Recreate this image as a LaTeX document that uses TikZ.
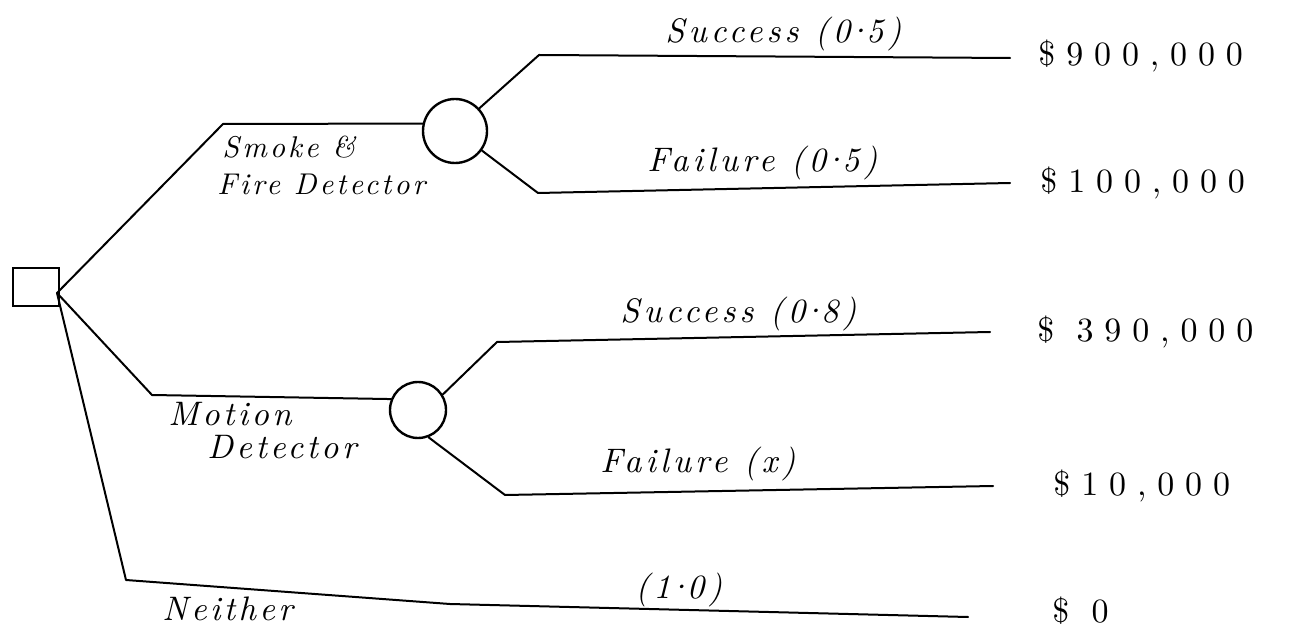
\documentclass[tikz,border=0pt]{standalone}
\usepackage{fontspec}
\setmainfont{lmroman10}[Extension=.otf, UprightFont=*-regular,
  ItalicFont=*-italic, BoldFont=*-bold, BoldItalicFont=*-bolditalic]
% raised decimal point, set close to its digits
\newcommand\rdot{\kern-2.5pt·\kern-2.5pt}
\tikzset{
  wire/.style={line width=1pt, line join=round, line cap=round},
  chance/.style={circle, draw, line width=1.2pt, inner sep=0pt},
  decision/.style={rectangle, draw, line width=1.2pt, inner sep=0pt,
    minimum width=23pt, minimum height=19pt},
  branchlab/.style={anchor=base west, inner sep=0pt,
    font=\fontsize{#1}{#1}\selectfont\itshape\addfontfeature{LetterSpace=10}},
  branchlab/.default=15,
  problab/.style={anchor=base west, inner sep=0pt,
    font=\fontsize{17}{19}\selectfont\itshape\addfontfeature{LetterSpace=12}},
  paylab/.style={anchor=base west, inner sep=0pt,
    font=\fontsize{17}{19}\selectfont\addfontfeature{LetterSpace=32}},
}
\begin{document}
\begin{tikzpicture}[x=0.5pt, y=-0.5pt]
\useasboundingbox (0,0) rectangle (1294,630);

% decision and chance nodes
\node[decision] (dec) at (36,287) {};
\coordinate (root) at (57,293);
\node[chance, minimum size=32pt] (c1) at (455,131) {};
\node[chance, minimum size=28pt] (c2) at (418,410) {};

% bends and branch ends
\coordinate (k1) at (223,124);
\coordinate (u1) at (539,55);
\coordinate (e1) at (1010,58);
\coordinate (l1) at (538,193);
\coordinate (e2) at (1010,183);
\coordinate (k2) at (152,395);
\coordinate (u2) at (497,342);
\coordinate (e3) at (990,332);
\coordinate (l2) at (505,495);
\coordinate (e4) at (993,486);
\coordinate (k3) at (126,580);
\coordinate (m3) at (450,604);
\coordinate (e5) at (968,617);

% branches
\draw[wire] (root) -- (k1) -- (c1.167);
\draw[wire] (c1.43) -- (u1) -- (e1);
\draw[wire] (c1.-36) -- (l1) -- (e2);
\draw[wire] (root) -- (k2) -- (c2.158);
\draw[wire] (c2.32) -- (u2) -- (e3);
\draw[wire] (c2.-69) -- (l2) -- (e4);
\draw[wire] (root) -- (k3) -- (m3) -- (e5);

% decision labels
\node[branchlab] (t1a) at (222,158) {Smoke \&};
\node[branchlab] (t1b) at (217,195) {Fire Detector};
\node[branchlab=17] (t2a) at (168,425) {Motion};
\node[branchlab=17] (t2b) at (207,458) {Detector};
\node[branchlab=17] (t3) at (162,620) {Neither};

% probabilities
\node[problab] (p1) at (665,43) {Success (0\rdot5)};
\node[problab] (p2) at (647,172) {Failure (0\rdot5)};
\node[problab] (p3) at (620,322) {Success (0\rdot8)};
\node[problab] (p4) at (600,472) {Failure (x)};
\node[problab] (p5) at (635,598) {(1\rdot0)};

% payoffs
\node[paylab] (v1) at (1038,66) {\$900,000};
\node[paylab] (v2) at (1040,193) {\$100,000};
\node[paylab] (v3) at (1037,342) {\$ 390,000};
\node[paylab] (v4) at (1053,495) {\$10,000};
\node[paylab] (v5) at (1052,622) {\$ 0};
\end{tikzpicture}
\end{document}
